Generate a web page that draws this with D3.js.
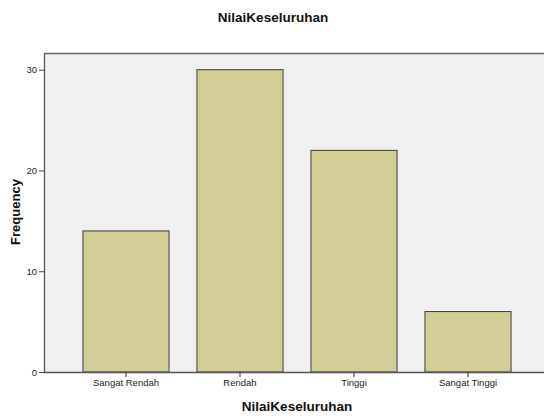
<!DOCTYPE html>
<html>
<head>
<meta charset="utf-8">
<script src="https://cdn.jsdelivr.net/npm/d3@7"></script>
<style>
  body { margin: 0; background: #fff; }
  svg { font-family: Arial, "Liberation Sans", sans-serif; }
</style>
</head>
<body>
<svg id="chart" width="544" height="419"></svg>
<script>
const categories = ["Sangat Rendah", "Rendah", "Tinggi", "Sangat Tinggi"];
const frequencies = [14, 30, 22, 6];
const yTicks = [0, 10, 20, 30];

const width = 544, height = 419;
const margin = { top: 53, right: 0, bottom: 47, left: 44 };

const svg = d3.select("#chart");

const x = d3.scaleBand()
    .domain(categories)
    .range([69, 525])
    .paddingInner(0.245)
    .paddingOuter(0.1225);
const y = d3.scaleLinear()
    .domain([0, 31.66])
    .range([height - margin.bottom, margin.top]);

// plot background
svg.append("rect")
    .attr("x", margin.left)
    .attr("y", margin.top)
    .attr("width", width - margin.left)
    .attr("height", height - margin.bottom - margin.top)
    .attr("fill", "#f0f0f0");

svg.append("line")
    .attr("x1", margin.left).attr("x2", width)
    .attr("y1", margin.top + 0.5).attr("y2", margin.top + 0.5)
    .attr("stroke", "#666").attr("stroke-width", 1.5);

svg.selectAll(".bar")
    .data(frequencies)
    .enter()
    .append("rect")
    .attr("class", "bar")
    .attr("x", (d, i) => x(categories[i]))
    .attr("y", d => y(d))
    .attr("width", x.bandwidth())
    .attr("height", d => y(0) - y(d))
    .attr("fill", "#d3ce97")
    .attr("stroke", "#3c3c3c")
    .attr("stroke-width", 1);

// axes
const yAxis = d3.axisLeft(y).tickValues(yTicks).tickSize(5).tickSizeOuter(0);
svg.append("g")
    .attr("transform", `translate(${margin.left},0)`)
    .call(yAxis)
    .call(g => g.select(".domain").attr("stroke", "#555").attr("stroke-width", 1.3))
    .call(g => g.selectAll(".tick line").attr("stroke", "#444"))
    .call(g => g.selectAll(".tick text").attr("font-size", 9.5).attr("fill", "#222").attr("dx", 1));

const xAxis = d3.axisBottom(x).tickSize(5).tickSizeOuter(0);
svg.append("g")
    .attr("transform", `translate(0,${height - margin.bottom})`)
    .call(xAxis)
    .call(g => g.select(".domain").attr("d", `M${margin.left},0.5H${width}`).attr("stroke", "#555").attr("stroke-width", 1.3))
    .call(g => g.selectAll(".tick line").attr("stroke", "#333"))
    .call(g => g.selectAll(".tick text").attr("font-size", 9.5).attr("fill", "#222").attr("dy", "0.6em"));

// titles
svg.append("text")
    .attr("x", 273).attr("y", 22)
    .attr("text-anchor", "middle")
    .attr("font-size", 13.5)
    .attr("font-weight", 600)
    .attr("fill", "#111")
    .text("NilaiKeseluruhan");

svg.append("text")
    .attr("x", 297).attr("y", 411)
    .attr("text-anchor", "middle")
    .attr("font-size", 13.5)
    .attr("font-weight", "bold")
    .attr("fill", "#111")
    .text("NilaiKeseluruhan");

svg.append("text")
    .attr("transform", "translate(20,212) rotate(-90)")
    .attr("text-anchor", "middle")
    .attr("font-size", 13)
    .attr("font-weight", "bold")
    .attr("fill", "#111")
    .text("Frequency");
</script>
</body>
</html>
